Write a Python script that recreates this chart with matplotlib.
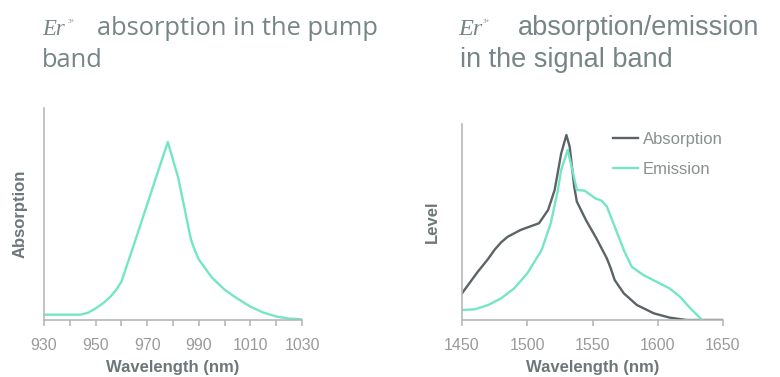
import matplotlib
matplotlib.use("Agg")
import matplotlib.pyplot as plt

# pump band (left)
pump_wl = [930, 944, 947, 950, 953, 956, 958, 960, 965, 970, 975, 978, 982,
           987, 988.5, 990, 992.5, 995, 1000, 1005, 1010, 1015, 1020, 1025, 1030]
pump_abs = [0.03, 0.03, 0.04, 0.065, 0.095, 0.135, 0.17, 0.215, 0.43, 0.65, 0.87,
            1.0, 0.80, 0.45, 0.39, 0.34, 0.29, 0.24, 0.17, 0.12, 0.075, 0.042,
            0.02, 0.008, 0.004]

# signal band (right)
sig_abs_wl = [1450, 1462, 1470, 1475, 1480, 1485, 1495, 1509, 1516, 1521, 1526,
              1530, 1532.5, 1536, 1538, 1545, 1553, 1561, 1564, 1567, 1574,
              1584, 1597, 1609, 1622, 1650]
sig_abs = [0.144, 0.26, 0.33, 0.38, 0.42, 0.45, 0.487, 0.523, 0.595, 0.703, 0.90,
           1.0, 0.937, 0.72, 0.64, 0.54, 0.441, 0.333, 0.279, 0.216, 0.144,
           0.081, 0.036, 0.013, 0.0, 0.0]

sig_em_wl = [1450, 1460, 1470, 1480, 1490, 1500, 1511, 1518, 1523.5, 1526, 1531,
             1534, 1538, 1544, 1552, 1557, 1561, 1566, 1574, 1580, 1589, 1599,
             1609, 1617, 1625, 1634]
sig_em = [0.054, 0.058, 0.081, 0.117, 0.171, 0.252, 0.378, 0.523, 0.703, 0.811,
          0.919, 0.829, 0.703, 0.699, 0.658, 0.645, 0.613, 0.523, 0.378, 0.288,
          0.243, 0.207, 0.171, 0.126, 0.063, 0.0]

pump_ticks = [930, 950, 970, 990, 1010, 1030]
pump_minor = [940, 960, 980, 1000, 1020]
sig_ticks = [1450, 1500, 1550, 1600, 1650]

teal = "#74e6c6"
dark = "#5b6366"
spine_c = "#b8b8b8"
tick_c = "#9a9a9a"
label_c = "#6d7778"
title_c = "#778587"

fig = plt.figure(figsize=(7.8, 3.77), dpi=100)
ax1 = fig.add_axes([44 / 780, 1 - 320 / 377, 258 / 780, 212 / 377])
ax2 = fig.add_axes([462 / 780, 1 - 320 / 377, 261 / 780, 196 / 377])


def style(ax):
    for s in ["top", "right"]:
        ax.spines[s].set_visible(False)
    for s in ["left", "bottom"]:
        ax.spines[s].set_color(spine_c)
        ax.spines[s].set_linewidth(1.2)
    ax.set_yticks([])
    ax.tick_params(axis="x", which="both", colors=spine_c, length=4, width=1.2,
                   pad=9, labelsize=11.5, labelcolor=tick_c)
    for lab in ax.get_xticklabels():
        lab.set_fontfamily("Liberation Sans")


ax1.plot(pump_wl, pump_abs, color=teal, lw=1.7)
ax1.set_xlim(930, 1030)
ax1.set_ylim(0, 212 / 178)
ax1.set_xticks(pump_ticks)
ax1.set_xticks(pump_minor, minor=True)
style(ax1)
ax1.set_xlabel("Wavelength (nm)", fontsize=12, fontweight="bold", color=label_c,
               family="Liberation Sans", labelpad=5)
ax1.set_ylabel("Absorption", fontsize=12, fontweight="bold", color=label_c,
               family="Liberation Sans", labelpad=12)

ax2.plot(sig_abs_wl, sig_abs, color=dark, lw=1.7, label="Absorption")
ax2.plot(sig_em_wl, sig_em, color=teal, lw=1.7, label="Emission")
ax2.set_xlim(1450, 1650)
ax2.set_ylim(0, 588 / 555)
ax2.set_xticks(sig_ticks)
style(ax2)
ax2.set_xlabel("Wavelength (nm)", fontsize=12, fontweight="bold", color=label_c,
               family="Liberation Sans", labelpad=5)
ax2.set_ylabel("Level", fontsize=12, fontweight="bold", color=label_c,
               family="Liberation Sans", labelpad=16)
leg = ax2.legend(loc="upper left", bbox_to_anchor=(0.5785, 0.959), frameon=False,
                 borderpad=0, borderaxespad=0, handlelength=1.5,
                 handletextpad=0.3, labelspacing=0.9,
                 prop={"family": "Liberation Sans", "size": 12})
for t in leg.get_texts():
    t.set_color("#8a8f90")


# titles
def title(x, y1, er_w, rest1, xrest, line2, x2, fam, size):
    fig.text(x / 780, 1 - y1 / 377, "Er", family="Liberation Serif", style="italic",
             fontsize=size - 2, color=title_c, va="baseline")
    fig.text((x + er_w) / 780, 1 - (y1 - 12) / 377, "3+", family="Liberation Serif",
             fontsize=5, color=title_c, va="baseline")
    fig.text(xrest / 780, 1 - y1 / 377, rest1, family=fam, fontsize=size,
             color=title_c, va="baseline")
    fig.text(x2 / 780, 1 - (y1 + 32) / 377, line2, family=fam, fontsize=size,
             color=title_c, va="baseline")


title(42, 35, 26, "absorption in the pump", 97, "band", 42, "Open Sans", 18.4)
title(458, 35, 25, "absorption/emission", 518, "in the signal band", 460,
      "Liberation Sans", 19.5)

fig.savefig("out.png", dpi=100, facecolor="white")
